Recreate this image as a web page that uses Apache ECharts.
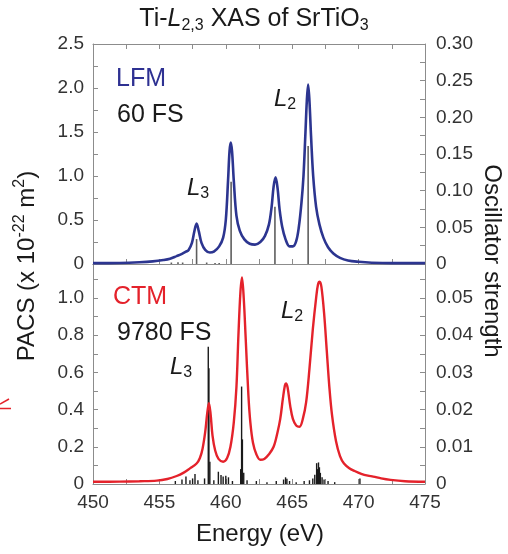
<!DOCTYPE html>
<html><head><meta charset="utf-8">
<script src="https://cdn.jsdelivr.net/npm/echarts@6/dist/echarts.min.js"></script>
<style>html,body{margin:0;padding:0;background:#fff}#c{width:508px;height:554px}</style>
</head><body><div id="c"></div><script>
// ---------- data ----------
const energyTicks = ['450','455','460','465','470','475'];
const lfmPacsTicks = ['0','0.5','1.0','1.5','2.0','2.5'];
const lfmOscTicks = ['0','0.05','0.10','0.15','0.20','0.25','0.30'];
const ctmPacsTicks = ['0','0.2','0.4','0.6','0.8','1.0'];
const ctmOscTicks = ['0','0.01','0.02','0.03','0.04','0.05'];

// LFM (60 FS) broadened spectrum, PACS
const lfmEnergy = [450.0,452.0,453.5,454.5,455.3,455.8,456.3,456.7,457.0,457.2,457.45,457.63,457.8,457.97,458.17,458.45,458.8,459.1,459.5,459.8,460.0,460.17,460.28,460.37,460.47,460.6,460.8,461.05,461.4,461.8,462.2,462.6,462.95,463.25,463.45,463.6,463.75,463.9,464.05,464.25,464.5,464.8,465.05,465.3,465.5,465.7,465.85,466.0,466.1,466.2,466.3,466.42,466.58,466.8,467.05,467.35,467.7,468.1,468.6,469.2,470.0,471.0,472.5,475.0];
const lfmPacs   = [0.01,0.012,0.02,0.03,0.045,0.06,0.09,0.115,0.14,0.16,0.24,0.37,0.46,0.37,0.24,0.16,0.13,0.14,0.2,0.3,0.5,0.95,1.28,1.38,1.28,0.95,0.55,0.38,0.28,0.23,0.22,0.25,0.32,0.45,0.65,0.88,0.985,0.86,0.62,0.42,0.28,0.2,0.2,0.26,0.42,0.7,1.0,1.5,1.85,2.04,1.85,1.45,1.0,0.65,0.45,0.3,0.19,0.12,0.07,0.04,0.025,0.015,0.01,0.01];
// LFM final states (sticks), oscillator strength
const lfmStickE = [455.9,456.4,456.75,457.8,458.56,459.19,459.5,460.4,463.7,466.2];
const lfmStickF = [0.002,0.0025,0.002,0.034,0.002,0.0015,0.0015,0.112,0.078,0.161];

// CTM (9780 FS) broadened spectrum, PACS
const ctmEnergy = [450.0,452.0,453.5,454.8,455.6,456.3,456.8,457.3,457.8,458.05,458.25,458.45,458.6,458.73,458.85,459.0,459.2,459.45,459.8,460.1,460.35,460.6,460.8,460.95,461.1,461.22,461.35,461.5,461.7,461.85,462.05,462.3,462.6,462.9,463.25,463.6,463.9,464.1,464.3,464.45,464.53,464.65,464.85,465.05,465.3,465.55,465.8,466.05,466.3,466.55,466.8,466.95,467.07,467.2,467.4,467.6,467.8,468.0,468.3,468.6,468.9,469.3,469.7,470.2,470.7,471.1,471.7,472.4,473.5,475.0];
const ctmPacs   = [0.012,0.013,0.015,0.018,0.027,0.043,0.06,0.084,0.11,0.14,0.19,0.28,0.38,0.434,0.38,0.26,0.18,0.135,0.12,0.14,0.2,0.33,0.52,0.8,1.03,1.111,1.0,0.78,0.48,0.33,0.22,0.16,0.13,0.135,0.16,0.2,0.28,0.35,0.46,0.53,0.541,0.52,0.42,0.35,0.315,0.308,0.35,0.44,0.62,0.83,1.0,1.075,1.088,1.06,0.92,0.72,0.52,0.37,0.23,0.15,0.11,0.085,0.07,0.055,0.045,0.04,0.03,0.022,0.015,0.012];
// CTM final states (sticks), oscillator strength
const ctmStickE = [456.2,456.7,457.0,457.3,457.5,457.68,457.9,458.4,458.68,458.73,458.8,459.1,459.44,459.64,459.8,460.0,460.2,460.5,461.12,461.19,461.25,461.35,461.6,462.3,463.1,463.8,464.35,464.5,464.6,464.8,465.3,465.9,466.3,466.55,466.7,466.84,466.9,466.98,467.05,467.12,467.25,467.4,467.7,468.2,470.1];
const ctmStickF = [0.0008,0.0012,0.002,0.001,0.0015,0.0027,0.001,0.0015,0.0369,0.0311,0.006,0.001,0.0033,0.0024,0.002,0.0022,0.0018,0.0008,0.004,0.0262,0.012,0.003,0.001,0.0008,0.0005,0.0008,0.0012,0.0018,0.0014,0.0008,0.0005,0.0008,0.001,0.0015,0.0025,0.0056,0.004,0.0058,0.0045,0.003,0.0018,0.0012,0.0008,0.0005,0.0015];

// ---------- chart ----------
const FF = '"Liberation Sans", Arial, sans-serif';
const zip = (a, b) => a.map((x, i) => [x, b[i]]);
const fromList = list => v => { const s = list.find(l => Math.abs(parseFloat(l) - v) < 1e-6); return s || ''; };
const AX = '#8c8c8c';
const LBL = '#333';

function xAx(grid, pos, showLabel, showTick) {
  return {
    type: 'value', gridIndex: grid, position: pos, min: 450, max: 475, interval: 2.5,
    axisLine: { show: true, onZero: false, lineStyle: { color: AX, width: 1 } },
    axisTick: { show: showTick, inside: true, length: 5, lineStyle: { color: AX } },
    axisLabel: { show: showLabel, formatter: fromList(energyTicks), color: LBL, fontSize: 19, fontFamily: FF, margin: 9 },
    splitLine: { show: false }
  };
}
function yAx(grid, pos, max, interval, list) {
  return {
    type: 'value', gridIndex: grid, position: pos, min: 0, max: max, interval: interval,
    axisLine: { show: true, onZero: false, lineStyle: { color: AX, width: 1 } },
    axisTick: { show: true, inside: true, length: 5, lineStyle: { color: AX } },
    axisLabel: { formatter: fromList(list), color: LBL, fontSize: 19, fontFamily: FF, margin: pos === 'left' ? 9 : 11 },
    splitLine: { show: false }
  };
}

function rich(main, sub, off) {
  return {
    n: { fontSize: main, fontFamily: FF, fill: '#1a1a1a' },
    i: { fontSize: main, fontFamily: FF, fontStyle: 'italic', fill: '#1a1a1a' },
    s: { fontSize: sub, fontFamily: FF, fill: '#1a1a1a', padding: [off * 2, 0, 0, 0] },
    p: { fontSize: sub, fontFamily: FF, fill: '#1a1a1a', padding: [0, 0, off * 2, 0] }
  };
}
function label(x, y, text, fill, size) {
  return { type: 'text', x: x, y: y, style: { text: text, fill: fill, fontSize: size, fontFamily: FF, align: 'left', verticalAlign: 'middle' } };
}
function lsub(x, y, n) {
  return { type: 'text', x: x, y: y, style: { text: '{i|L}{s|' + n + '}', rich: rich(24, 16, 6), align: 'left', verticalAlign: 'middle' } };
}

const chart = echarts.init(document.getElementById('c'), null, { renderer: 'canvas' });
chart.setOption({
  backgroundColor: '#fff',
  animation: false,
  textStyle: { fontFamily: FF },
  grid: [
    { left: 93, right: 83, top: 44, height: 220, outerBoundsMode: 'none' },
    { left: 93, right: 83, top: 264, height: 220, outerBoundsMode: 'none' }
  ],
  xAxis: [
    xAx(0, 'bottom', false, true),
    xAx(0, 'top', false, true),
    xAx(1, 'bottom', true, true),
    xAx(1, 'top', false, false)
  ],
  yAxis: [
    yAx(0, 'left', 2.5, 0.25, lfmPacsTicks),
    yAx(0, 'right', 0.30, 0.025, lfmOscTicks),
    yAx(1, 'left', 1.183, 0.1, ctmPacsTicks),
    yAx(1, 'right', 0.05915, 0.005, ctmOscTicks)
  ],
  series: [
    { type: 'bar', xAxisIndex: 0, yAxisIndex: 1, data: zip(lfmStickE, lfmStickF), barWidth: 1.6, itemStyle: { color: '#5e5e5e' }, z: 2 },
    { type: 'line', xAxisIndex: 0, yAxisIndex: 0, data: zip(lfmEnergy, lfmPacs), smooth: 0.35, showSymbol: false, lineStyle: { color: '#2c3590', width: 2.6 }, z: 3 },
    { type: 'bar', xAxisIndex: 2, yAxisIndex: 3, data: zip(ctmStickE, ctmStickF), barWidth: 1.4, itemStyle: { color: '#1a1a1a' }, z: 2 },
    { type: 'line', xAxisIndex: 2, yAxisIndex: 2, data: zip(ctmEnergy, ctmPacs), smooth: 0.35, showSymbol: false, lineStyle: { color: '#e4222b', width: 2.4 }, z: 3 }
  ],
  graphic: [
    { type: 'text', x: 254, y: 19, style: { text: '{n|Ti-}{i|L}{s|2,3}{n| XAS of SrTiO}{s|3}', rich: rich(25, 16, 7), align: 'center', verticalAlign: 'middle' } },
    label(116, 79, 'LFM', '#2e3192', 25),
    label(117, 115, '60 FS', '#1a1a1a', 25),
    lsub(274, 99, '2'),
    lsub(187, 188, '3'),
    label(113, 297, 'CTM', '#e4222b', 25),
    label(117, 333, '9780 FS', '#1a1a1a', 25),
    lsub(281, 311, '2'),
    lsub(170, 367, '3'),
    { type: 'text', x: 27, y: 266, rotation: Math.PI / 2, style: { text: '{n|PACS (x 10}{p|-22}{n| m}{p|2}{n|)}', rich: rich(24, 16, 7), align: 'center', verticalAlign: 'middle' } },
    { type: 'text', x: 492, y: 261, rotation: -Math.PI / 2, style: { text: 'Oscillator strength', fill: '#1a1a1a', fontSize: 24, fontFamily: FF, align: 'center', verticalAlign: 'middle' } },
    { type: 'text', x: 260, y: 534, style: { text: 'Energy (eV)', fill: '#1a1a1a', fontSize: 24, fontFamily: FF, align: 'center', verticalAlign: 'middle' } },
    { type: 'polyline', shape: { points: [[0, 404], [9, 399]] }, style: { stroke: '#e4222b', lineWidth: 1.5, fill: null } },
    { type: 'polyline', shape: { points: [[0, 408.5], [11, 408.5]] }, style: { stroke: '#e4222b', lineWidth: 1.5, fill: null } }
  ]
});
</script></body></html>
